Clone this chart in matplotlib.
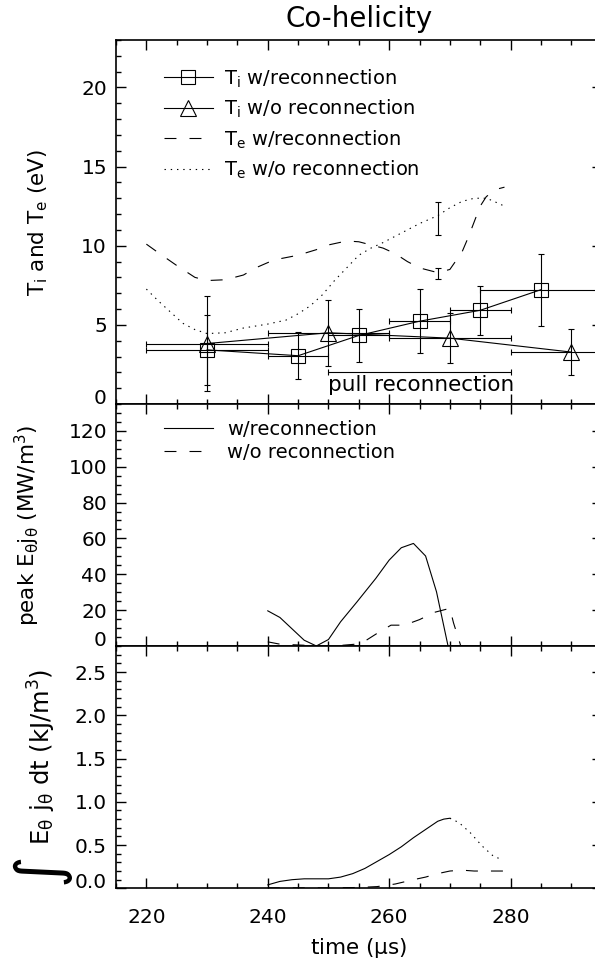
import matplotlib
matplotlib.use('Agg')
import matplotlib.pyplot as plt
from matplotlib.ticker import MultipleLocator

plt.rcParams['font.family'] = ['DejaVu Sans']
plt.rcParams['mathtext.default'] = 'regular'
plt.rcParams['lines.scale_dashes'] = False

# ---- Ti (spectroscopy) ----
t_sq = [230, 245, 255, 265, 275, 285]
ti_sq = [3.42, 3.05, 4.33, 5.23, 5.92, 7.22]
ti_sq_yerr = [2.2, 1.47, 1.66, 2.03, 1.53, 2.27]
ti_sq_xerr = [10, 5, 5, 5, 5, 10]

t_tri = [230, 250, 270, 290]
ti_tri = [3.82, 4.5, 4.16, 3.28]
ti_tri_yerr = [3.0, 2.08, 1.6, 1.45]
ti_tri_xerr = [10, 10, 10, 10]

# ---- Te curves ----
t_te_w = [220, 222, 225, 228, 230, 233, 236, 238, 241, 245, 248, 250, 253, 255, 257,
          259, 261, 263, 265, 267, 268, 270, 272, 273, 274, 275, 276, 277, 278, 279]
te_w = [10.1, 9.55, 8.75, 8.0, 7.8, 7.85, 8.15, 8.6, 9.1, 9.4, 9.75, 10.05, 10.3, 10.25, 10.05,
        9.85, 9.5, 9.0, 8.6, 8.4, 8.3, 8.5, 9.6, 10.5, 11.5, 12.5, 13.1, 13.4, 13.6, 13.7]

t_te_wo = [220, 222, 224, 226, 228, 230, 233, 236, 240, 243, 245, 247, 249, 251, 253,
           255, 257, 259, 262, 265, 268, 270, 272, 274, 276, 277, 279]
te_wo = [7.26, 6.5, 5.8, 5.1, 4.7, 4.45, 4.5, 4.8, 5.05, 5.3, 5.7, 6.2, 6.9, 7.8, 8.6,
         9.4, 9.85, 10.2, 10.8, 11.4, 11.9, 12.4, 12.8, 13.0, 13.0, 12.85, 12.5]

t_te_bar = [268]
te_w_bar = [8.25]
te_w_bar_err = [0.35]
te_wo_bar = [11.73]
te_wo_bar_err = [1.03]

pull_t = [265]
pull_y = [2.0]
pull_half = [15]

# ---- peak E_theta j_theta ----
t_pk_w = [240, 242, 246, 248, 250, 252, 254.7, 257.8, 260, 262, 264, 266, 267.8, 269.7, 275, 280]
pk_w = [19.6, 15.9, 3.2, 0, 3.6, 13.5, 24.6, 37.7, 47.9, 54.8, 57.2, 50.2, 30.2, 0, 0, 0]

t_pk_wo = [240, 242, 246, 248, 252, 254.5, 256, 258, 260.3, 262.5, 265, 267.5, 270, 270.6, 271.8, 275, 280]
pk_wo = [2.3, 1.0, 0.4, 0, 0.3, 1.0, 2.7, 7.0, 11.6, 11.6, 14.7, 18.8, 21.0, 12.9, 0, 0, 0]

# ---- integrated E_theta j_theta ----
t_int_w = [240, 242, 244, 246, 248, 250, 252, 254, 256, 258, 260, 262, 264, 266, 268, 269, 270]
int_w = [0.04, 0.08, 0.10, 0.11, 0.11, 0.11, 0.13, 0.17, 0.23, 0.31, 0.39, 0.48, 0.585, 0.68, 0.775, 0.80, 0.81]

t_int_tail = [270, 271.5, 273.4, 275.3, 277.2, 278.7]
int_tail = [0.81, 0.76, 0.64, 0.49, 0.37, 0.33]

t_int_wo = [240, 245, 250, 255, 258, 261, 264, 266, 268, 270, 272, 274, 276, 278.9]
int_wo = [0.005, 0.005, 0.005, 0.01, 0.02, 0.05, 0.10, 0.13, 0.17, 0.20, 0.21, 0.20, 0.20, 0.20]

DASH = (0, (8.6, 9.4))
DOT = (0, (1.0, 3.5))
LW = 0.8
FS_TICK = 14.5

fig = plt.figure(figsize=(5.95, 9.66), dpi=100)
left, width = 0.195, 0.8161
ax1 = fig.add_axes([left, 0.5818, width, 0.3768])
ax2 = fig.add_axes([left, 0.3313, width, 0.2505])
ax3 = fig.add_axes([left, 0.0804, width, 0.2508])


def style_axis(ax, ymax, ymajor, yminor, show_x=False):
    ax.set_xlim(215, 295)
    ax.set_ylim(0, ymax)
    ax.xaxis.set_major_locator(MultipleLocator(20))
    ax.xaxis.set_minor_locator(MultipleLocator(5))
    ax.yaxis.set_major_locator(MultipleLocator(ymajor))
    ax.yaxis.set_minor_locator(MultipleLocator(yminor))
    ax.tick_params(which='both', direction='in', top=True, right=True, width=1.0)
    ax.tick_params(which='major', length=7.2)
    ax.tick_params(which='minor', length=3.6)
    ax.tick_params(axis='y', labelsize=FS_TICK, pad=6.5)
    ax.tick_params(axis='x', labelsize=FS_TICK, pad=14.5, labelbottom=show_x)
    for s in ax.spines.values():
        s.set_linewidth(1.2)


style_axis(ax1, 23, 5, 1)
style_axis(ax2, 135, 20, 5)
style_axis(ax3, 2.8, 0.5, 0.1, show_x=True)
ax3.yaxis.set_major_formatter(plt.FormatStrFormatter('%.1f'))

# ---- top panel ----
ax1.errorbar(t_sq, ti_sq, yerr=ti_sq_yerr, xerr=ti_sq_xerr, fmt='none', ecolor='black',
             elinewidth=LW, capsize=2.5, capthick=LW)
ax1.errorbar(t_tri, ti_tri, yerr=ti_tri_yerr, xerr=ti_tri_xerr, fmt='none', ecolor='black',
             elinewidth=LW, capsize=2.5, capthick=LW)
ax1.plot(t_sq, ti_sq, '-', color='black', lw=LW, marker='s', ms=10, mfc='none', mew=LW,
         label='T$_i$ w/reconnection')
ax1.plot(t_tri, ti_tri, '-', color='black', lw=LW, marker='^', ms=11, mfc='none', mew=LW,
         label='T$_i$ w/o reconnection')
ax1.plot(t_te_w, te_w, color='black', lw=LW, linestyle=DASH, label='T$_e$ w/reconnection')
ax1.plot(t_te_wo, te_wo, color='black', lw=LW, linestyle=DOT, label='T$_e$ w/o reconnection')
ax1.errorbar(t_te_bar, te_w_bar, yerr=te_w_bar_err, fmt='none', ecolor='black',
             elinewidth=LW, capsize=2.5, capthick=LW)
ax1.errorbar(t_te_bar, te_wo_bar, yerr=te_wo_bar_err, fmt='none', ecolor='black',
             elinewidth=LW, capsize=2.5, capthick=LW)
ax1.errorbar(pull_t, pull_y, xerr=pull_half, fmt='none', ecolor='black',
             elinewidth=LW, capsize=2.5, capthick=LW)
ax1.text(265.2, 1.2, 'pull reconnection', ha='center', va='center', fontsize=15.5)
ax1.legend(loc='upper left', bbox_to_anchor=(0.099, 0.925), frameon=False, fontsize=14,
           handlelength=2.5, handletextpad=0.6, labelspacing=0.42, borderpad=0,
           borderaxespad=0, numpoints=1)
ax1.set_ylabel('T$_i$ and T$_e$ (eV)', fontsize=15.5)
ax1.yaxis.set_label_coords(-0.136, 0.5)
ax1.set_title('Co-helicity', fontsize=20, pad=9)

# ---- middle panel ----
ax2.plot(t_pk_w, pk_w, color='black', lw=LW, label='w/reconnection')
ax2.plot(t_pk_wo, pk_wo, color='black', lw=LW, linestyle=DASH, label='w/o reconnection')
ax2.legend(loc='upper left', bbox_to_anchor=(0.099, 0.935), frameon=False, fontsize=14,
           handlelength=2.5, handletextpad=0.75, labelspacing=0.22, borderpad=0,
           borderaxespad=0)
ax2.set_ylabel(r'peak E$_{\theta}$j$_{\theta}$ (MW/m$^3$)', fontsize=15.5)
ax2.yaxis.set_label_coords(-0.152, 0.5)

# ---- bottom panel ----
ax3.plot(t_int_w, int_w, color='black', lw=LW)
ax3.plot(t_int_tail, int_tail, color='black', lw=LW, linestyle=DOT)
ax3.plot(t_int_wo, int_wo, color='black', lw=LW, linestyle=DASH)
ax3.set_xlabel(r'time ($\mu$s)', fontsize=15.5, labelpad=6)
fig.text(42 / 595, 1 - 757 / 966, r'E$_{\theta}$ j$_{\theta}$ dt (kJ/m$^3$)', rotation=90,
         fontsize=17.5, ha='center', va='center')
fig.text(40 / 595, 1 - 868 / 966, '\u222b', rotation=90, fontsize=44,
         ha='center', va='center', family=['DejaVu Sans'])

# zero labels sit just above the lower spine
fig.canvas.draw()
for ax in (ax1, ax2, ax3):
    for tick in ax.yaxis.get_major_ticks():
        if abs(tick.get_loc()) < 1e-9:
            tick.label1.set_verticalalignment('baseline')

fig.savefig('out.png', dpi=100)
